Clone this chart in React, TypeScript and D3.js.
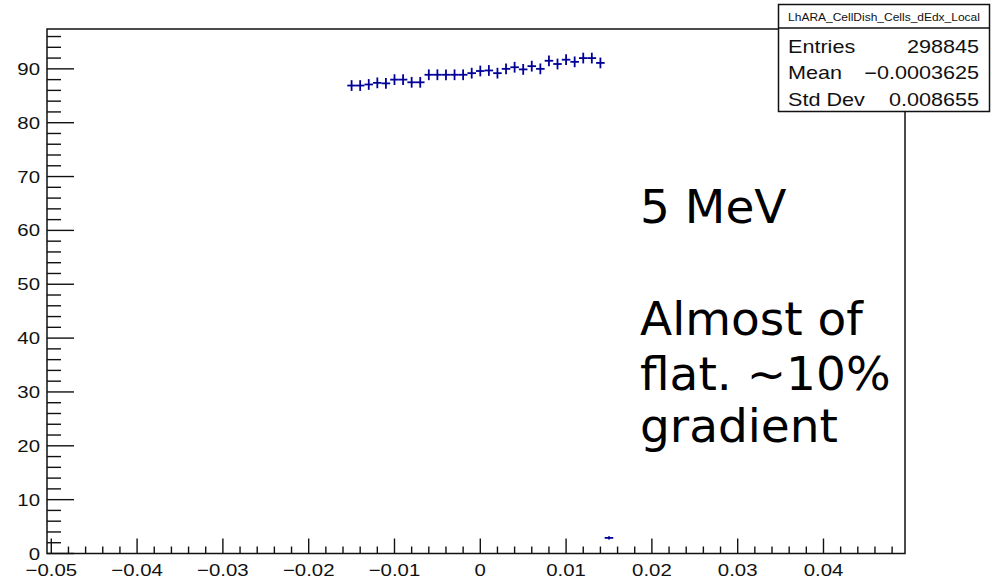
import React from "react";
import * as d3 from "d3";

// Histogram: LhARA_CellDish_Cells_dEdx_Local (bin width 0.001)
const binCenters = [
  -0.015, -0.014, -0.013, -0.012, -0.011, -0.01, -0.009, -0.008, -0.007, -0.006,
  -0.005, -0.004, -0.003, -0.002, -0.001, 0, 0.001, 0.002, 0.003, 0.004,
  0.005, 0.006, 0.007, 0.008, 0.009, 0.01, 0.011, 0.012, 0.013, 0.014, 0.015,
];
const binContents = [
  86.9, 86.9, 87.1, 87.4, 87.3, 88.0, 88.0, 87.5, 87.5, 88.9,
  88.9, 88.9, 88.9, 88.9, 89.2, 89.6, 89.7, 89.2, 90.0, 90.3,
  89.9, 90.5, 90.0, 91.5, 90.9, 91.7, 91.3, 92.0, 92.0, 91.1, 2.9,
];
const binErrors = [
  1.0, 1.0, 1.0, 1.0, 1.0, 1.0, 1.0, 1.0, 1.0, 1.0,
  1.0, 1.0, 1.0, 1.0, 1.0, 1.0, 1.0, 1.0, 1.0, 1.0,
  1.0, 1.0, 1.0, 1.0, 1.0, 1.0, 1.0, 1.0, 1.0, 1.0, 0.3,
];
const binWidth = 0.001;

const xTickValues = [-0.05, -0.04, -0.03, -0.02, -0.01, 0, 0.01, 0.02, 0.03, 0.04];
const xTickLabels = ["\u22120.05", "\u22120.04", "\u22120.03", "\u22120.02", "\u22120.01", "0", "0.01", "0.02", "0.03", "0.04"];
const yTickValues = [0, 10, 20, 30, 40, 50, 60, 70, 80, 90];
const yTickLabels = ["0", "10", "20", "30", "40", "50", "60", "70", "80", "90"];

const statsTitle = "LhARA_CellDish_Cells_dEdx_Local";
const statsNames = ["Entries", "Mean", "Std Dev"];
const statsValues = ["298845", "\u22120.0003625", "0.008655"];

const noteLines = ["5 MeV", "Almost of", "flat. ~10%", "gradient"];
const noteBaselines = [223, 335, 389.5, 442];

const W = 992;
const H = 579;
const frame = { left: 47, right: 905, top: 29, bottom: 553.5 };
const rootFont = "'Liberation Sans', Arial, Helvetica, sans-serif";
const stretch = 1.2;
const markColor = "#000099";

function RootText(props: {
  x: number;
  y: number;
  size: number;
  anchor?: "start" | "middle" | "end";
  children: React.ReactNode;
  fill?: string;
}) {
  const { x, y, size, anchor = "start", children, fill = "#111" } = props;
  return (
    <text
      transform={`translate(${x},${y}) scale(${stretch},1)`}
      fontFamily={rootFont}
      fontSize={size}
      textAnchor={anchor}
      fill={fill}
    >
      {children}
    </text>
  );
}

export default function App() {
  const x = d3.scaleLinear().domain([-0.0505, 0.0495]).range([frame.left, frame.right]);
  const y = d3.scaleLinear().domain([0, 97.4]).range([frame.bottom, frame.top]);

  const xMinor = d3.range(-0.05, 0.0495, 0.002).filter((v) => Math.abs(Math.round(v * 100) - v * 100) > 1e-6);
  const yMinor = d3.range(0, 97.4, 2).filter((v) => v % 10 !== 0);

  const bins = binCenters.map((c, i) => ({ c, v: binContents[i], e: binErrors[i] }));

  return (
    <svg
      width={W}
      height={H}
      style={{ position: "absolute", left: 0, top: 0, background: "#fff" }}
    >
      <rect x={0} y={0} width={W} height={H} fill="#fff" />

      {/* frame */}
      <rect
        x={frame.left}
        y={frame.top}
        width={frame.right - frame.left}
        height={frame.bottom - frame.top}
        fill="none"
        stroke="#111"
        strokeWidth={1.5}
      />

      {/* x axis ticks */}
      {xTickValues.map((v) => (
        <line key={"xM" + v} x1={x(v)} x2={x(v)} y1={frame.bottom} y2={frame.bottom - 15} stroke="#111" strokeWidth={1.4} />
      ))}
      {xMinor.map((v) => (
        <line key={"xm" + v} x1={x(v)} x2={x(v)} y1={frame.bottom} y2={frame.bottom - 7} stroke="#111" strokeWidth={1.4} />
      ))}
      {xTickValues.map((v, i) => (
        <RootText key={"xl" + v} x={x(v)} y={575.5} size={17} anchor="middle">
          {xTickLabels[i]}
        </RootText>
      ))}

      {/* y axis ticks */}
      {yTickValues.map((v) => (
        <line key={"yM" + v} x1={frame.left} x2={frame.left + 27} y1={y(v)} y2={y(v)} stroke="#111" strokeWidth={1.4} />
      ))}
      {yMinor.map((v) => (
        <line key={"ym" + v} x1={frame.left} x2={frame.left + 14} y1={y(v)} y2={y(v)} stroke="#111" strokeWidth={1.4} />
      ))}
      {yTickValues.map((v, i) => (
        <RootText key={"yl" + v} x={40} y={y(v) + 6} size={17} anchor="end">
          {yTickLabels[i]}
        </RootText>
      ))}

      {/* histogram with error bars */}
      <g stroke={markColor} strokeWidth={1.8}>
        {bins.map((b) => (
          <g key={"b" + b.c}>
            <line x1={x(b.c - binWidth / 2)} x2={x(b.c + binWidth / 2)} y1={y(b.v)} y2={y(b.v)} />
            <line x1={x(b.c)} x2={x(b.c)} y1={y(b.v - b.e)} y2={y(b.v + b.e)} />
          </g>
        ))}
      </g>

      {/* statistics box */}
      <rect x={778.5} y={4.5} width={211} height={107} fill="#fff" stroke="#111" strokeWidth={1.5} />
      <line x1={778.5} x2={989.5} y1={28} y2={28} stroke="#111" strokeWidth={1.5} />
      <RootText x={884} y={21} size={10} anchor="middle">
        {statsTitle}
      </RootText>
      {statsNames.map((n, i) => (
        <g key={n}>
          <RootText x={788} y={53 + i * 26.3} size={18}>
            {n}
          </RootText>
          <RootText x={979} y={53 + i * 26.3} size={18} anchor="end">
            {statsValues[i]}
          </RootText>
        </g>
      ))}

      {/* annotation */}
      <text fontFamily="'DejaVu Sans', sans-serif" fontSize={47} fill="#000">
        {noteLines.map((t, i) => (
          <tspan key={i} x={640} y={noteBaselines[i]}>
            {t}
          </tspan>
        ))}
      </text>
    </svg>
  );
}
